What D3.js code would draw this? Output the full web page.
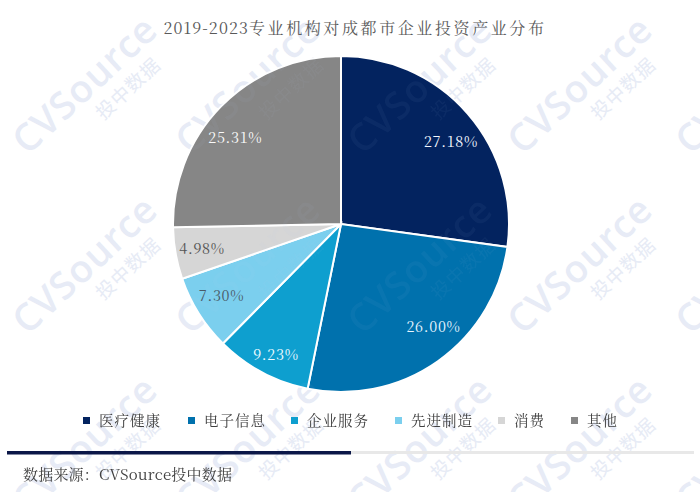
<!DOCTYPE html>
<html><head><meta charset="utf-8">
<script src="https://cdn.jsdelivr.net/npm/d3@7/dist/d3.min.js"></script>
<style>html,body{margin:0;padding:0;background:#fff}svg{display:block}</style></head>
<body><svg id="c" width="700" height="492"></svg>
<script>
const categories=["医疗健康","电子信息","企业服务","先进制造","消费","其他"];
const values=[27.18,26.00,9.23,7.30,4.98,25.31];
const colors=["#03235f","#0071ad","#0e9fcf","#7bcfee","#d6d6d6","#868686"];
const labelColors=["#f4f8ff","#e8f6ff","#f0fbff","#4a5a68","#555","#fafafa"];
const labelDx=[9,15,-2,-6,-7,-10];
const labelDy=[6,-6,13,1,1,8];
const legendX=[87,192,295,399,502,575];
const titleYears="2019-2023";
const titleRest="专业机构对成都市企业投资产业分布";
const source="数据来源：CVSource投中数据";
const wmCols=[-80,87,250,422,582,750];
const wmRows=[87,267,447];
const font="'Noto Serif CJK SC','Liberation Serif','Noto Sans CJK SC',serif";
const svg=d3.select("#c");
function watermark(parent,fill,op){
  const w=parent.append("g").attr("opacity",op);
  wmRows.forEach(y=>wmCols.forEach(x=>{
    const g=w.append("g").attr("transform",`translate(${x},${y}) rotate(-43)`);
    g.append("text").attr("y",10).attr("text-anchor","middle").attr("font-family","'Open Sans',sans-serif").attr("font-weight",600).attr("font-size",38).attr("letter-spacing",1).attr("fill",fill).text("CVSource");
    g.append("text").attr("x",29).attr("y",36).attr("text-anchor","middle").attr("font-family","'Noto Sans CJK SC'").attr("font-size",19).attr("letter-spacing",1).attr("fill",fill).text("投中数据");
  }));
}
watermark(svg,"#e9edf6",1);
svg.append("text").attr("x",355).attr("y",34).attr("text-anchor","middle").attr("font-family",font).attr("font-size",16).attr("fill","#595959")
  .call(t=>{t.append("tspan").attr("letter-spacing",1.1).text(titleYears);t.append("tspan").attr("letter-spacing",2.6).text(titleRest);});
const arc=d3.arc().innerRadius(0).outerRadius(168);
const pie=d3.pie().sort(null).value(d=>d);
const g=svg.append("g").attr("transform","translate(341,224)");
const arcs=pie(values);
g.selectAll("path").data(arcs).join("path").attr("d",arc).attr("fill",(d,i)=>colors[i]).attr("stroke","#fff").attr("stroke-width",2);
watermark(svg,"#c4d2f0",0.05);
const la=d3.arc().innerRadius(134).outerRadius(134);
g.selectAll("text").data(arcs).join("text").attr("transform",(d,i)=>{const c=la.centroid(d);return `translate(${c[0]+labelDx[i]},${c[1]+labelDy[i]})`;}).attr("text-anchor","middle").attr("dy","0.35em").attr("font-family",font).attr("font-size",14.5).attr("letter-spacing",0.7).attr("fill",(d,i)=>labelColors[i]).text(d=>d.value.toFixed(2)+"%");
const lg=svg.append("g");
categories.forEach((c,i)=>{
  const x=legendX[i];
  lg.append("rect").attr("x",x-4).attr("y",417).attr("width",7).attr("height",7).attr("fill",colors[i]);
  lg.append("text").attr("x",x+12).attr("y",426).attr("font-family",font).attr("font-size",14.5).attr("letter-spacing",1).attr("fill","#404040").text(c);
});
svg.append("rect").attr("x",7).attr("y",451).attr("width",344).attr("height",3.5).attr("fill","#0b1748");
svg.append("rect").attr("x",351).attr("y",451).attr("width",343).attr("height",3).attr("fill","#e8e8e8");
svg.append("text").attr("x",23).attr("y",480).attr("font-family",font).attr("font-size",15).attr("letter-spacing",0.2).attr("fill","#404040").text(source);
</script></body></html>
